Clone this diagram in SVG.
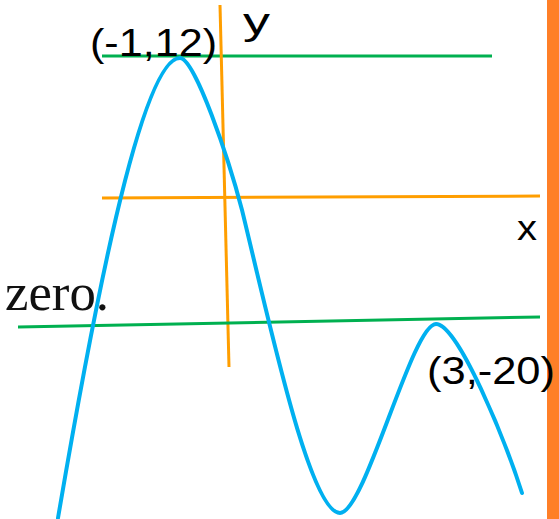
<svg xmlns="http://www.w3.org/2000/svg" width="559" height="519" viewBox="0 0 559 519">
<style>
.g{stroke:#00B050;stroke-width:3;fill:none}
.o{stroke:#FF9E00;stroke-width:3;fill:none}
.c{stroke:#00B0F0;stroke-width:4;fill:none;stroke-linecap:round}
.t{font-family:"Liberation Sans","DejaVu Sans",sans-serif;fill:#000}
.s{font-family:"Liberation Serif","DejaVu Serif",serif;fill:#111}
</style>
<rect x="0" y="0" width="559" height="519" fill="#fff"/>
<rect id="bar" x="547" y="0" width="12" height="519" fill="#FF7F27"/>
<g id="lines">
<line class="g" x1="102" y1="56" x2="492" y2="56"/>
<line class="o" x1="220" y1="5" x2="229" y2="367"/>
<line class="o" x1="102" y1="198" x2="540" y2="196"/>
<line class="g" x1="18" y1="327" x2="540" y2="317"/>
</g>
<g id="curve">
<path class="c" d="M58,518 C90,330 140,58 180,58 C195,58 229,160 242,210 C270,325 310,513 340,513 C365,513 412,324 436,324 C458,324 505,440 522,493"/>
</g>
<g id="labels">
<text class="t" x="90" y="56" font-size="39" textLength="127" lengthAdjust="spacingAndGlyphs">(-1,12)</text>
<text class="t" x="243" y="34" font-size="37" textLength="27" lengthAdjust="spacingAndGlyphs">y</text>
<text class="t" x="517" y="240" font-size="35" textLength="20" lengthAdjust="spacingAndGlyphs">x</text>
<text class="t" x="427" y="384" font-size="39" textLength="128" lengthAdjust="spacingAndGlyphs">(3,-20)</text>
<text class="s" x="5" y="310" font-size="53" textLength="104" lengthAdjust="spacingAndGlyphs">zero.</text>
</g>
</svg>
